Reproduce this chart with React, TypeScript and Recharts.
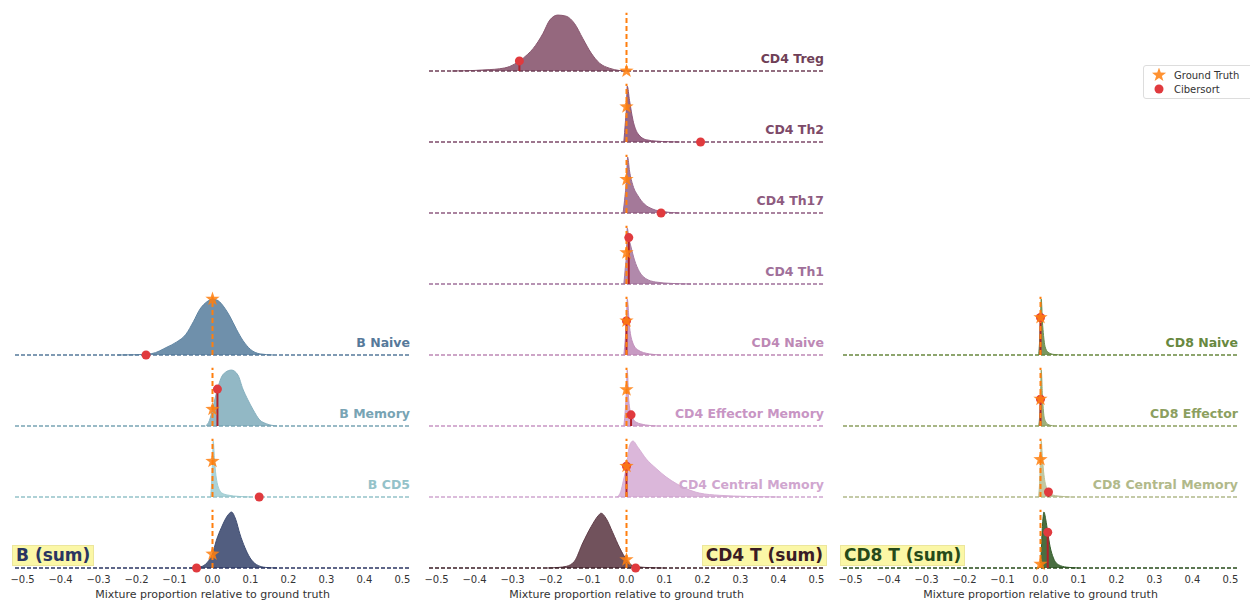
import { ComposedChart, Area, XAxis, YAxis, Scatter, ReferenceLine } from "recharts";

const xTicks = [-0.5, -0.4, -0.3, -0.2, -0.1, 0, 0.1, 0.2, 0.3, 0.4, 0.5];

// ---- B cells ----
const bNames = ["B Naive", "B Memory", "B CD5", "B (sum)"];
const bGroundTruthY = [1.0, 0.3, 0.64, 0.25];
const bCibersortX = [-0.175, 0.013, 0.123, -0.042];
const bCibersortY = [0, 0.66, 0, 0];

const bNaiveX = [-0.25, -0.2, -0.16, -0.12, -0.095, -0.07, -0.05, -0.033, -0.015, 0, 0.015, 0.03, 0.045, 0.063, 0.08, 0.1, 0.125, 0.16];
const bNaiveY = [0, 0.005, 0.025, 0.14, 0.23, 0.37, 0.6, 0.82, 0.95, 1.0, 0.97, 0.86, 0.7, 0.46, 0.26, 0.1, 0.02, 0];
const bMemoryX = [-0.018, -0.008, 0, 0.007, 0.014, 0.022, 0.034, 0.05, 0.067, 0.08, 0.093, 0.107, 0.124, 0.142, 0.17];
const bMemoryY = [0, 0.1, 0.3, 0.5, 0.68, 0.85, 0.96, 1.0, 0.91, 0.66, 0.47, 0.29, 0.11, 0.04, 0];
const bCd5X = [-0.005, -0.002, 0, 0.002, 0.005, 0.008, 0.012, 0.018, 0.025, 0.04, 0.07, 0.1];
const bCd5Y = [0, 0.3, 0.64, 1.0, 0.7, 0.45, 0.26, 0.13, 0.07, 0.035, 0.01, 0];
const bSumX = [-0.06, -0.04, -0.027, -0.01, 0, 0.01, 0.024, 0.039, 0.05, 0.061, 0.072, 0.085, 0.098, 0.116, 0.14, 0.17];
const bSumY = [0, 0.01, 0.03, 0.13, 0.25, 0.49, 0.73, 0.93, 1.0, 0.87, 0.61, 0.37, 0.19, 0.06, 0.01, 0];

// ---- CD4 T cells ----
const cd4Names = ["CD4 Treg", "CD4 Th2", "CD4 Th17", "CD4 Th1", "CD4 Naive", "CD4 Effector Memory", "CD4 Central Memory", "CD4 T (sum)"];
const cd4GroundTruthY = [0, 0.63, 0.6, 0.56, 0.61, 0.65, 0.55, 0.15];
const cd4CibersortX = [-0.282, 0.195, 0.091, 0.006, 0, 0.012, 0, 0.024];
const cd4CibersortY = [0.18, 0, 0, 0.83, 0.61, 0.2, 0.55, 0];

const tregX = [-0.46, -0.4, -0.36, -0.334, -0.308, -0.282, -0.26, -0.246, -0.22, -0.202, -0.181, -0.159, -0.137, -0.115, -0.093, -0.071, -0.045, -0.02, 0];
const tregY = [0, 0.01, 0.025, 0.04, 0.08, 0.18, 0.3, 0.4, 0.67, 0.91, 1.0, 0.98, 0.85, 0.58, 0.32, 0.14, 0.05, 0.01, 0];
const th2X = [-0.007, -0.003, 0, 0.002, 0.008, 0.017, 0.03, 0.052, 0.08, 0.11, 0.14];
const th2Y = [0, 0.35, 0.63, 1.0, 0.74, 0.39, 0.15, 0.04, 0.015, 0.005, 0];
const th17X = [-0.009, -0.004, 0, 0.003, 0.008, 0.017, 0.03, 0.047, 0.069, 0.096, 0.14];
const th17Y = [0, 0.3, 0.6, 1.0, 0.75, 0.49, 0.31, 0.16, 0.07, 0.025, 0];
const th1X = [-0.007, -0.003, 0, 0.002, 0.006, 0.012, 0.021, 0.034, 0.05, 0.077, 0.12, 0.17];
const th1Y = [0, 0.3, 0.56, 1.0, 0.83, 0.66, 0.43, 0.22, 0.1, 0.035, 0.01, 0];
const cd4NaiveX = [-0.007, -0.003, 0, 0.002, 0.008, 0.017, 0.03, 0.06, 0.09];
const cd4NaiveY = [0, 0.3, 0.61, 1.0, 0.5, 0.21, 0.09, 0.02, 0];
const effMemX = [-0.007, -0.003, 0, 0.002, 0.006, 0.012, 0.018, 0.025, 0.05, 0.08];
const effMemY = [0, 0.3, 0.65, 1.0, 0.46, 0.21, 0.12, 0.07, 0.02, 0];
const centMemX = [-0.025, -0.015, -0.008, 0, 0.008, 0.017, 0.03, 0.052, 0.078, 0.104, 0.131, 0.157, 0.192, 0.245, 0.32, 0.4];
const centMemY = [0, 0.1, 0.3, 0.55, 0.92, 1.0, 0.89, 0.68, 0.51, 0.36, 0.24, 0.15, 0.07, 0.03, 0.01, 0];
const cd4SumX = [-0.21, -0.18, -0.158, -0.137, -0.115, -0.093, -0.075, -0.067, -0.054, -0.036, -0.018, 0, 0.017, 0.05, 0.1];
const cd4SumY = [0, 0.01, 0.03, 0.12, 0.45, 0.74, 0.93, 0.98, 0.89, 0.63, 0.36, 0.15, 0.04, 0.01, 0];

// ---- CD8 T cells ----
const cd8Names = ["CD8 Naive", "CD8 Effector", "CD8 Central Memory", "CD8 T (sum)"];
const cd8GroundTruthY = [0.67, 0.48, 0.67, 0.07];
const cd8CibersortX = [0, 0, 0.021, 0.019];
const cd8CibersortY = [0.67, 0.48, 0.09, 0.64];

const cd8NaiveX = [-0.005, -0.002, 0, 0.002, 0.005, 0.008, 0.012, 0.02, 0.035, 0.06];
const cd8NaiveY = [0, 0.3, 0.67, 1.0, 0.6, 0.35, 0.15, 0.05, 0.01, 0];
const cd8EffX = [-0.005, -0.002, 0, 0.002, 0.005, 0.008, 0.012, 0.02, 0.035];
const cd8EffY = [0, 0.2, 0.48, 1.0, 0.55, 0.25, 0.1, 0.03, 0];
const cd8CmX = [-0.005, -0.002, 0, 0.002, 0.005, 0.009, 0.016, 0.021, 0.029, 0.05, 0.08];
const cd8CmY = [0, 0.3, 0.67, 1.0, 0.7, 0.4, 0.16, 0.09, 0.04, 0.015, 0];
const cd8SumX = [-0.003, 0, 0.005, 0.009, 0.014, 0.019, 0.025, 0.034, 0.047, 0.069, 0.1];
const cd8SumY = [0, 0.07, 0.74, 1.0, 0.86, 0.64, 0.39, 0.18, 0.06, 0.015, 0];

// ---- colours ----
const bFills = ["#5f84a2", "#86b0bf", "#a2ced4", "#3f4d72"];
const bInk = ["#56799a", "#78a4b4", "#94c2c9", "#2a3561"];
const cd4Fills = ["#8a5870", "#8d5779", "#9a6a8e", "#a87ca2", "#c290bc", "#cc9dc8", "#d7afd6", "#623f4a"];
const cd4Ink = ["#6f3f57", "#7d4a69", "#8e5b80", "#a0709a", "#bd88b5", "#c895c4", "#d0a6cf", "#3a1c24"];
const cd8Fills = ["#6c8c4c", "#93a66c", "#bcc297", "#355e2c"];
const cd8Ink = ["#68883f", "#8c9f5f", "#b1b98a", "#264a1a"];

const ORANGE = "#ff7f0e";
const RED = "#e03a3e";
const ROW_H = 66;
const AXIS_H = 32;
const PAD = 8;
const SIDE = 14;
const PLOT_W = 395;

const fmt = (v: number) => v.toFixed(1).replace("-", "\u2212");

const Star = (props: any) => {
  const { cx, cy } = props;
  if (cx == null || cy == null) return null;
  const pts: string[] = [];
  for (let i = 0; i < 10; i++) {
    const r = i % 2 === 0 ? 7.5 : 3;
    const a = -Math.PI / 2 + (i * Math.PI) / 5;
    pts.push(`${cx + r * Math.cos(a)},${cy + r * Math.sin(a)}`);
  }
  return <polygon points={pts.join(" ")} fill={ORANGE} fillOpacity={0.85} />;
};

const Dot = (props: any) => {
  const { cx, cy } = props;
  if (cx == null || cy == null) return null;
  return <circle cx={cx} cy={cy} r={4.5} fill={RED} />;
};

const rowLabel = (text: string, color: string) => (props: any) => {
  const vb = props.viewBox || {};
  return (
    <text x={vb.x + vb.width} y={vb.y - 8} textAnchor="end" fill={color} fontSize={12.5} fontWeight="bold">
      {text}
    </text>
  );
};

type RidgeProps = {
  xs: number[];
  ys: number[];
  name: string;
  gtY: number;
  csX: number;
  csY: number;
  fill: string;
  ink: string;
  left: number;
  baseline: number;
  bottom: boolean;
  sumAlign: "left" | "right";
};

function Ridge(p: RidgeProps) {
  const data = p.xs.map((x, i) => ({ x, y: p.ys[i] }));
  const isSum = p.name.includes("(sum)");
  const h = p.bottom ? PAD + ROW_H + AXIS_H : PAD + ROW_H + PAD;
  const w = PLOT_W + 2 * SIDE;
  return (
    <div style={{ position: "absolute", left: p.left - SIDE, top: p.baseline - ROW_H - PAD, width: w, height: h }}>
      <ComposedChart
        width={w}
        height={h}
        margin={{ top: PAD, right: SIDE, bottom: p.bottom ? 0 : PAD, left: SIDE }}
      >
        <XAxis
          type="number"
          dataKey="x"
          domain={[-0.52, 0.52]}
          ticks={xTicks}
          interval={0}
          hide={!p.bottom}
          height={AXIS_H}
          axisLine={false}
          tickLine={false}
          tickFormatter={fmt}
          tick={{ fontSize: 10, fill: "#333" }}
          label={{ value: "Mixture proportion relative to ground truth", position: "insideBottom", offset: 2, fontSize: 11, fill: "#333" }}
        />
        <YAxis type="number" dataKey="y" domain={[0, 1.18]} hide />
        <Area
          data={data}
          dataKey="y"
          type="monotone"
          fill={p.fill}
          fillOpacity={0.9}
          stroke={p.fill}
          strokeWidth={1}
          isAnimationActive={false}
        />
        <ReferenceLine
          y={0}
          stroke={p.ink}
          strokeWidth={1.3}
          strokeDasharray="4 2"
          label={isSum ? undefined : rowLabel(p.name, p.ink)}
        />
        {p.csY > 0 && (
          <ReferenceLine segment={[{ x: p.csX, y: 0 }, { x: p.csX, y: p.csY }]} stroke="#b0202a" strokeWidth={2} />
        )}
        <ReferenceLine
          segment={[{ x: 0, y: 0 }, { x: 0, y: 1.04 }]}
          stroke={ORANGE}
          strokeWidth={2}
          strokeDasharray="5 3"
        />
        <Scatter data={[{ x: p.csX, y: p.csY }]} dataKey="y" shape={Dot} isAnimationActive={false} />
        <Scatter data={[{ x: 0, y: p.gtY }]} dataKey="y" shape={Star} isAnimationActive={false} />
      </ComposedChart>
      {isSum && (
        <div
          style={{
            position: "absolute",
            top: PAD + ROW_H - 23,
            left: p.sumAlign === "left" ? SIDE - 3 : undefined,
            right: p.sumAlign === "right" ? SIDE - 3 : undefined,
            background: "#fbf7a6",
            border: "1px solid #ece69c",
            color: p.ink,
            fontWeight: "bold",
            fontSize: 17,
            lineHeight: "19px",
            padding: "0 3px",
            whiteSpace: "nowrap",
          }}
        >
          {p.name}
        </div>
      )}
    </div>
  );
}

const bDens = [
  [bNaiveX, bNaiveY],
  [bMemoryX, bMemoryY],
  [bCd5X, bCd5Y],
  [bSumX, bSumY],
];
const cd4Dens = [
  [tregX, tregY],
  [th2X, th2Y],
  [th17X, th17Y],
  [th1X, th1Y],
  [cd4NaiveX, cd4NaiveY],
  [effMemX, effMemY],
  [centMemX, centMemY],
  [cd4SumX, cd4SumY],
];
const cd8Dens = [
  [cd8NaiveX, cd8NaiveY],
  [cd8EffX, cd8EffY],
  [cd8CmX, cd8CmY],
  [cd8SumX, cd8SumY],
];

const columns = [
  { left: 15, firstRow: 4, names: bNames, dens: bDens, gt: bGroundTruthY, csx: bCibersortX, csy: bCibersortY, fills: bFills, ink: bInk, align: "left" as const },
  { left: 429, firstRow: 0, names: cd4Names, dens: cd4Dens, gt: cd4GroundTruthY, csx: cd4CibersortX, csy: cd4CibersortY, fills: cd4Fills, ink: cd4Ink, align: "right" as const },
  { left: 843, firstRow: 4, names: cd8Names, dens: cd8Dens, gt: cd8GroundTruthY, csx: cd8CibersortX, csy: cd8CibersortY, fills: cd8Fills, ink: cd8Ink, align: "left" as const },
];

export default function App() {
  return (
    <div
      style={{
        position: "absolute",
        left: 0,
        top: 0,
        width: 1250,
        height: 600,
        overflow: "hidden",
        background: "#fff",
        fontFamily: "'DejaVu Sans', sans-serif",
      }}
    >
      {columns.map((col) =>
        col.names.map((name, i) => (
          <Ridge
            key={name}
            xs={col.dens[i][0]}
            ys={col.dens[i][1]}
            name={name}
            gtY={col.gt[i]}
            csX={col.csx[i]}
            csY={col.csy[i]}
            fill={col.fills[i]}
            ink={col.ink[i]}
            left={col.left}
            baseline={70.5 + 71.1 * (col.firstRow + i)}
            bottom={i === col.names.length - 1}
            sumAlign={col.align}
          />
        ))
      )}
      <div
        style={{
          position: "absolute",
          left: 1143,
          top: 65,
          width: 120,
          height: 32,
          border: "1px solid #ddd",
          borderRadius: 3,
          background: "#fff",
          fontSize: 10,
          color: "#333",
        }}
      >
        <div style={{ position: "absolute", left: 8, top: 2, display: "flex", alignItems: "center", height: 14 }}>
          <svg width={16} height={14}>
            <Star cx={7} cy={7} />
          </svg>
          <span style={{ marginLeft: 6 }}>Ground Truth</span>
        </div>
        <div style={{ position: "absolute", left: 8, top: 16, display: "flex", alignItems: "center", height: 14 }}>
          <svg width={16} height={14}>
            <Dot cx={7} cy={7} />
          </svg>
          <span style={{ marginLeft: 6 }}>Cibersort</span>
        </div>
      </div>
    </div>
  );
}
